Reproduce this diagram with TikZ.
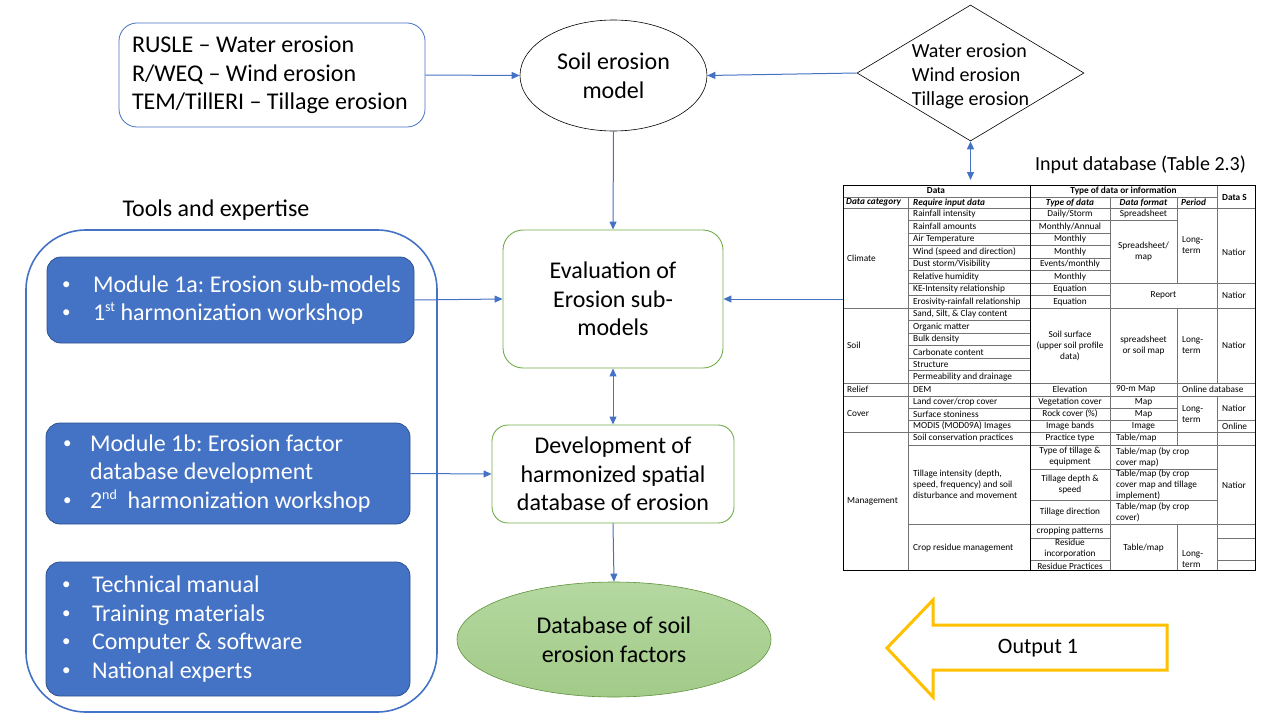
\documentclass[tikz,border=0pt]{standalone}
\usepackage{fontspec}
\setmainfont{Carlito}
\usetikzlibrary{shapes.geometric,arrows.meta}
\definecolor{pblue}{HTML}{4472C4}
\definecolor{dblue}{HTML}{2F528F}
\definecolor{pgreen}{HTML}{70AD47}
\definecolor{lgreenA}{HTML}{B4D8A0}
\definecolor{lgreenB}{HTML}{A2CA88}
\definecolor{pyellow}{HTML}{FFC000}
\newcommand{\bigf}{\fontsize{24}{28.7}\selectfont}
\newcommand{\midf}{\fontsize{20}{24}\selectfont}
\newcommand{\tabf}{\fontsize{9.3}{11}\selectfont}
\newcommand{\bul}[1]{\makebox[#1][l]{\raisebox{0.12em}{\fontsize{17}{17}\selectfont •}}}
\newcommand{\supx}[1]{\raisebox{0.38em}{\fontsize{14}{14}\selectfont #1}}
\frenchspacing
\tikzset{
  arr/.style={draw=pblue, line width=1pt, -{Triangle[length=8pt,width=7pt]}},
  darr/.style={draw=pblue, line width=1pt, {Triangle[length=8pt,width=7pt]}-{Triangle[length=8pt,width=7pt]}},
  whitebox/.style={draw=pblue, line width=0.8pt, fill=white, inner sep=0pt},
  greenbox/.style={draw=pgreen, line width=0.9pt, fill=white, align=center, font=\bigf, inner sep=0pt},
  bluebox/.style={draw=dblue, line width=0.8pt, fill=pblue, rounded corners=14pt, text=white, font=\bigf, align=flush left, inner sep=0pt},
  tc/.style={font=\tabf, inner sep=0pt, align=center},
  tl/.style={font=\tabf, inner sep=0pt, anchor=west, align=flush left},
  th/.style={font=\tabf\bfseries, inner sep=0pt, align=center},
  thi/.style={font=\tabf\bfseries\itshape, inner sep=0pt, anchor=west},
  tline/.style={draw=black!55, line width=0.7pt},
  tdark/.style={draw=black, line width=0.9pt},
}
\begin{document}
\begin{tikzpicture}[x=1pt,y=-1pt]
\useasboundingbox (0,0) rectangle (1280,720);

% top row
\node[whitebox, rounded corners=18pt, minimum width=306pt, minimum height=104pt,
      text width=280pt, align=flush left, font=\bigf] (rusle) at (272,75)
  {RUSLE – Water erosion\\R/WEQ – Wind erosion\\TEM/TillERI – Tillage erosion};
\node[ellipse, draw=black, line width=0.6pt, minimum width=187pt, minimum height=111pt,
      inner sep=0pt, align=center, font=\bigf] (sem) at (613.5,75.5) {Soil erosion\\model};
\node[diamond, draw=black, line width=0.6pt, minimum width=227pt, minimum height=136pt,
      inner sep=0pt] (dia) at (970.5,73) {};
\node[font=\midf, align=flush left, inner sep=0pt] (diatext) at (970.5,76) {Water erosion\\Wind erosion\\Tillage erosion};
\coordinate (dbtop) at (970.5,180);
\node[font=\midf, inner sep=0pt] (tbltitle) at (1140.5,165) {Input database (Table 2.3)};

% tools
\node[font=\bigf, inner sep=0pt] (toolslbl) at (216,210) {Tools and expertise};
\node[draw=pblue, line width=1.6pt, rounded corners=60pt, minimum width=411pt, minimum height=482pt] (tools) at (231.5,471) {};
\node[bluebox, minimum width=367pt, minimum height=86pt, text width=337pt] (m1a) at (230.5,300)
  {\mbox{\bul{31pt}Module 1a: Erosion sub-models}\\\mbox{\bul{31pt}1\supx{st} harmonization workshop}};
\node[bluebox, minimum width=364pt, minimum height=101pt, text width=330pt] (m1b) at (228,473.5)
  {\mbox{\bul{27pt}Module 1b: Erosion factor}\\\hspace*{27pt}database development\\\mbox{\bul{27pt}2\supx{nd}\ \ harmonization workshop}};
\node[bluebox, minimum width=364pt, minimum height=134pt, text width=332pt] (m3) at (228,629)
  {\bul{30pt}Technical manual\\\bul{30pt}Training materials\\\bul{30pt}Computer \& software\\\bul{30pt}National experts};

% center column
\node[greenbox, rounded corners=20pt, minimum width=220pt, minimum height=138pt] (eval) at (613,299)
  {Evaluation of\\Erosion sub-\\models};
\node[greenbox, rounded corners=16pt, minimum width=242pt, minimum height=98pt] (dev) at (613,474)
  {Development of\\harmonized spatial\\database of erosion};
\node[ellipse, draw=pgreen!85!black, line width=0.6pt, top color=lgreenA, bottom color=lgreenB,
      minimum width=314pt, minimum height=115pt, inner sep=0pt, align=center, font=\bigf] (db) at (614,639.5)
  {Database of soil\\erosion factors};

% table frame node
\node[minimum width=412pt, minimum height=385pt, inner sep=0pt] (tbl) at (1049,377.5) {};

% table lines
\begin{scope}
\fill[white] (843,185) rectangle (1255,570);
\draw[tline] (843,197) -- (1217,197);
\draw[tline] (843,208) -- (1255,208);
\foreach \yy in {220.5,233,245.5,258,270.5,283,295.5} \draw[tline] (908,\yy) -- (1110,\yy);
\draw[tline] (1110,220.5) -- (1177,220.5);
\draw[tline] (1110,283) -- (1255,283);
\draw[tline] (843,308) -- (1255,308);
\foreach \yy in {320.5,333,345.5,358,370.5} \draw[tline] (908,\yy) -- (1030,\yy);
\draw[tline] (843,383) -- (1255,383);
\draw[tline] (843,396) -- (1255,396);
\foreach \yy in {408,420} \draw[tline] (908,\yy) -- (1177,\yy);
\draw[tline] (1217,420) -- (1255,420);
\draw[tline] (843,432) -- (1255,432);
\draw[tline] (908,445) -- (1255,445);
\foreach \yy in {469,500} \draw[tline] (1030,\yy) -- (1217,\yy);
\draw[tline] (908,524) -- (1255,524);
\foreach \yy in {538,560} {\draw[tline] (1030,\yy) -- (1110,\yy); \draw[tline] (1217,\yy) -- (1255,\yy);}
\draw[tline] (908,197) -- (908,570);
\draw[tdark] (1030,185) -- (1030,570);
\draw[tline] (1110,197) -- (1110,570);
\draw[tline] (1177,197) -- (1177,283);
\draw[tline] (1177,308) -- (1177,445);
\draw[tline] (1177,524) -- (1177,570);
\draw[tline] (1217,185) -- (1217,383);
\draw[tline] (1217,396) -- (1217,570);
\end{scope}

% table texts
\begin{scope}
\clip (843,185) rectangle (1254,570);
\node[th] (h1) at (936,191) {Data};
\node[th] (h2) at (1123.5,191) {Type of data or information};
\node[th, anchor=west] (h3) at (1222,197) {Data S};
\node[thi] (h4) at (846,202.5) {Data category};
\node[thi] (h5) at (913,202.5) {Require input data};
\node[th, font=\tabf\bfseries\itshape] (h6) at (1070,202.5) {Type of data};
\node[th, font=\tabf\bfseries\itshape] (h7) at (1143.5,202.5) {Data format};
\node[thi] (h8) at (1181,202.5) {Period};
% climate
\node[tl] (cl) at (847,258) {Climate};
\foreach \t/\u [count=\i] in {Rainfall intensity/Daily\slash Storm, Rainfall amounts/Monthly\slash Annual,
   Air Temperature/Monthly, Wind (speed and direction)/Monthly, Dust storm\slash Visibility/Events\slash monthly,
   Relative humidity/Monthly, KE-Intensity relationship/Equation, Erosivity-rainfall relationship/Equation}
 {\node[tl] (ca\i) at (913,{201.75+12.5*\i}) {\t};
  \node[tc] (cb\i) at (1070,{201.75+12.5*\i}) {\u};}
\node[tc] (cc1) at (1143.5,214.25) {Spreadsheet};
\node[tc] (cc2) at (1143.5,252) {Spreadsheet/\\map};
\node[tl] (cc3) at (1182,245.5) {Long-\\term};
\node[tl] (cc4) at (1222,252) {Natior};
\node[tc] (cc5) at (1163.5,295.5) {Report};
\node[tl] (cc6) at (1222,295.5) {Natior};
% soil
\node[tl] (so) at (847,345.5) {Soil};
\foreach \t [count=\i] in {{Sand, Silt, \& Clay content}, Organic matter, Bulk density, Carbonate content, Structure, Permeability and drainage}
 {\node[tl] (sa\i) at (913,{302+12.5*\i}) {\t};}
\node[tc] (sb) at (1070,345.5) {Soil surface\\(upper soil profile\\data)};
\node[tc] (sc) at (1143.5,345.5) {spreadsheet\\or soil map};
\node[tl] (sd) at (1182,345.5) {Long-\\term};
\node[tl] (se) at (1222,345.5) {Natior};
% relief
\node[tl] (re) at (847,389.5) {Relief};
\node[tl] (ra) at (913,389.5) {DEM};
\node[tc] (rb) at (1070,389.5) {Elevation};
\node[tl] (rc) at (1116,389.5) {90-m Map};
\node[tl] (rd) at (1182,389.5) {Online database};
% cover
\node[tl] (co) at (847,414) {Cover};
\foreach \t/\u/\v [count=\i] in {Land cover\slash crop cover/Vegetation cover/Map, Surface stoniness/Rock cover (\%)/Map, MODIS (MOD09A) Images/Image bands/Image}
 {\node[tl] (va\i) at (913,{390+12*\i}) {\t};
  \node[tc] (vb\i) at (1070,{390+12*\i}) {\u};
  \node[tc] (vc\i) at (1143.5,{390+12*\i}) {\v};}
\node[tl] (vd) at (1182,414) {Long-\\term};
\node[tl] (ve) at (1222,408) {Natior};
\node[tl] (vf) at (1222,426) {Online};
% management
\node[tl] (mg) at (847,501) {Management};
\node[tl] (ma1) at (913,438.5) {Soil conservation practices};
\node[tl] (ma2) at (913,484.5) {Tillage intensity (depth,\\speed, frequency) and soil\\disturbance and movement};
\node[tl] (ma3) at (913,548) {Crop residue management};
\node[tc] (mb1) at (1070,438.5) {Practice type};
\node[tc] (mb2) at (1070,457) {Type of tillage \&\\equipment};
\node[tc] (mb3) at (1070,484.5) {Tillage depth \&\\speed};
\node[tc] (mb4) at (1070,512) {Tillage direction};
\node[tc] (mb5) at (1070,531) {cropping patterns};
\node[tc] (mb6) at (1070,549) {Residue\\incorporation};
\node[tc] (mb7) at (1070,566) {Residue Practices};
\node[tl] (mc1) at (1116,438.5) {Table/map};
\node[tl] (mc2) at (1116,457) {Table/map (by crop\\cover map)};
\node[tl] (mc3) at (1116,485) {Table/map (by crop\\cover map and tillage\\implement)};
\node[tl] (mc4) at (1116,512) {Table/map (by crop\\cover)};
\node[tc] (mc5) at (1143.5,548) {Table/map};
\node[tl] (md1) at (1182,559.5) {Long-\\term};
\node[tl] (md2) at (1222,485) {Natior};
\end{scope}
\draw[black, line width=1pt] (843,185) rectangle (1255,570);

% output arrow
\draw[draw=pyellow, line width=3pt, fill=white, line join=miter]
  (887,648) -- (933,600) -- (933,625) -- (1167,625) -- (1167,670) -- (933,670) -- (933,697) -- cycle;
\node[font=\fontsize{22}{26}\selectfont, inner sep=0pt] (out) at (1038,648) {Output 1};

% connectors
\draw[arr] (rusle.east) -- (sem.west);
\draw[arr] (dia.west) -- (sem.east);
\draw[darr] (dia.south) -- (dbtop);
\draw[arr] (sem.south) -- (eval.north);
\draw[arr] (m1a.east) -- (eval.west);
\draw[arr] (tbl.west |- eval.east) -- (eval.east);
\draw[darr] (eval.south) -- (dev.north);
\draw[arr] (m1b.east) -- (dev.west);
\draw[arr] (dev.south) -- (db.north);
\end{tikzpicture}
\end{document}
